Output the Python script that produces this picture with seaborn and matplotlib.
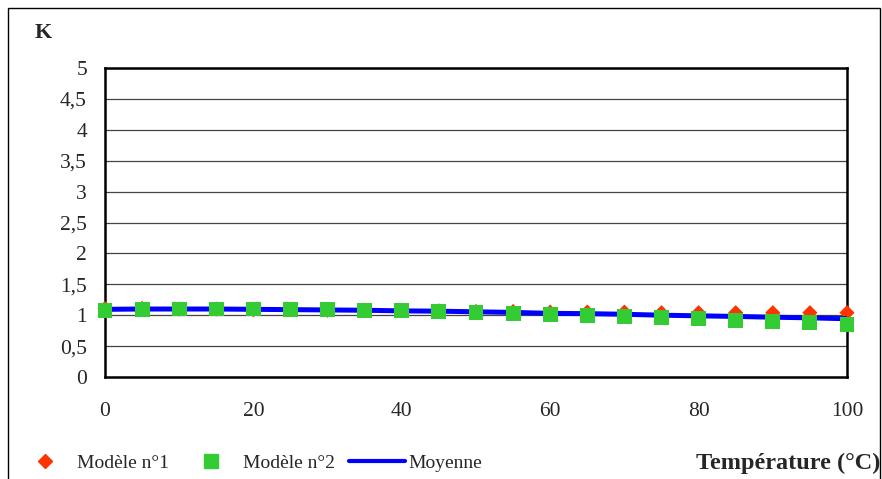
import matplotlib
matplotlib.use("Agg")
import matplotlib.pyplot as plt
import matplotlib.patches as mpatches
from matplotlib.lines import Line2D
import seaborn as sns
import pandas as pd

temperature = [0, 5, 10, 15, 20, 25, 30, 35, 40, 45, 50, 55, 60, 65, 70, 75, 80, 85, 90, 95, 100]
modele1 = [1.11, 1.11, 1.10, 1.10, 1.09, 1.09, 1.08, 1.08, 1.07, 1.07, 1.06, 1.06, 1.05, 1.05, 1.05,
           1.04, 1.04, 1.04, 1.04, 1.04, 1.04]
modele2 = [1.08, 1.09, 1.10, 1.10, 1.10, 1.09, 1.09, 1.08, 1.07, 1.06, 1.05, 1.03, 1.01, 1.00, 0.98,
           0.96, 0.94, 0.92, 0.895, 0.875, 0.845]
moyenne = [(a + b) / 2 for a, b in zip(modele1, modele2)]

y_ticks = [0, 0.5, 1, 1.5, 2, 2.5, 3, 3.5, 4, 4.5, 5]
y_tick_labels = ["0", "0,5", "1", "1,5", "2", "2,5", "3", "3,5", "4", "4,5", "5"]
x_ticks = [0, 20, 40, 60, 80, 100]

df = pd.DataFrame({"T": temperature, "m1": modele1, "m2": modele2, "moy": moyenne})

sns.set_style("white")
serif = ["Liberation Serif", "DejaVu Serif"]
plt.rcParams["font.family"] = serif

fig = plt.figure(figsize=(8.82, 4.79), dpi=100)
ax = fig.add_axes([105 / 882, 1 - 377 / 479, (847 - 105) / 882, (377 - 68) / 479])

sns.scatterplot(data=df, x="T", y="m1", ax=ax, marker="D", s=60, color="#FF3300",
                edgecolor="none", zorder=3, clip_on=False)
sns.lineplot(data=df, x="T", y="moy", ax=ax, color="#0000FF", linewidth=3.6, zorder=4)
sns.scatterplot(data=df, x="T", y="m2", ax=ax, marker="s", s=115, color="#33CC33",
                edgecolor="none", zorder=5, clip_on=False)

ax.set_xlim(0, 100)
ax.set_ylim(0, 5)
ax.set_yticks(y_ticks)
ax.set_yticklabels(y_tick_labels)
ax.set_xticks(x_ticks)
ax.set_xticklabels([str(v) for v in x_ticks])
ax.set_xlabel("")
ax.set_ylabel("")
for yv in y_ticks[1:]:
    ax.axhline(yv, color="#444444", lw=0.9, zorder=1)
for s in ax.spines.values():
    s.set_visible(True)
    s.set_color("black")
    s.set_linewidth(1.8)
ax.tick_params(axis="both", which="major", direction="out", length=5, width=1,
               labelsize=15.5, color="black")
ax.tick_params(axis="y", pad=8)
ax.tick_params(axis="x", pad=13)
for lab in ax.get_xticklabels() + ax.get_yticklabels():
    lab.set_fontfamily(serif)

if ax.get_legend():
    ax.get_legend().remove()

fig.text(35 / 882, 1 - 33 / 479, "K", fontsize=16, fontweight="bold", va="center", ha="left")
fig.text(880 / 882, 1 - 463 / 479, "Température (°C)", fontsize=17.5, fontweight="bold",
         va="center", ha="right")

handles = [
    Line2D([], [], marker="D", color="#FF3300", linestyle="none", markersize=7.6),
    Line2D([], [], marker="s", color="#33CC33", linestyle="none", markersize=10.5),
    Line2D([], [], color="#0000FF", linewidth=3),
]
labels = ["Modèle n°1", "Modèle n°2", "Moyenne"]
fig.legend(handles, labels, loc="center left", bbox_to_anchor=(17.5 / 882, 1 - 463 / 479),
           ncol=3, frameon=False, fontsize=14, handlelength=2.85, handletextpad=0.2,
           columnspacing=0.75, borderpad=0, borderaxespad=0)

border = mpatches.Rectangle((8 / 882, -0.05), (880 - 8) / 882, 1 - 8 / 479 + 0.05,
                            transform=fig.transFigure, fill=False, edgecolor="black",
                            linewidth=1, clip_on=False)
fig.patches.append(border)

fig.savefig("out.png", dpi=100)
